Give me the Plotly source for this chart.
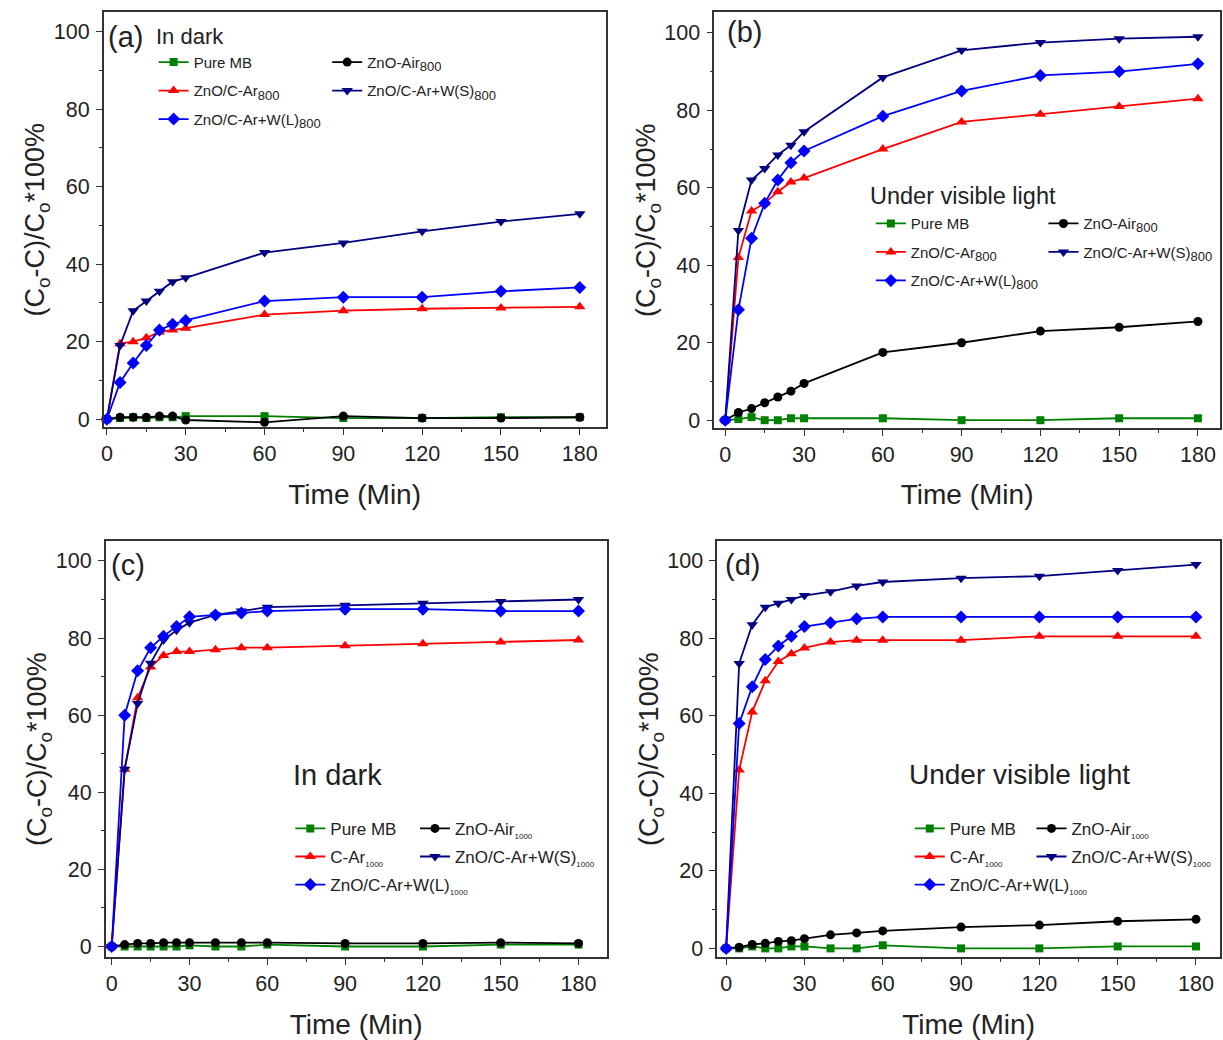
import plotly.graph_objects as go

# ---------------- data ----------------
time_800 = [0, 5, 10, 15, 20, 25, 30, 60, 90, 120, 150, 180]
time_1000 = [0, 5, 10, 15, 20, 25, 30, 40, 50, 60, 90, 120, 150, 180]

# (a) 800 in dark
a_pure_mb = [0, 0.3, 0.5, 0.3, 0.5, 0.5, 0.8, 0.8, 0.3, 0.3, 0.5, 0.5]
a_zno_air = [0, 0.5, 0.5, 0.5, 0.8, 0.8, -0.2, -0.8, 0.8, 0.3, 0.3, 0.5]
a_zno_c_ar = [0, 19.5, 20, 21, 22.5, 23, 23.5, 27, 28, 28.5, 28.7, 29]
a_zno_c_ws = [0, 19, 28, 30.5, 33, 35.5, 36.5, 43, 45.5, 48.5, 51, 53]
a_zno_c_wl = [0, 9.5, 14.5, 19, 23, 24.5, 25.5, 30.5, 31.5, 31.5, 33, 34]

# (b) 800 under visible light
b_pure_mb = [0, 0.3, 0.8, 0, 0, 0.5, 0.5, 0.5, 0, 0, 0.5, 0.5]
b_zno_air = [0, 2, 3, 4.5, 6, 7.5, 9.5, 17.5, 20, 23, 24, 25.5]
b_zno_c_ar = [0, 42, 54, 56, 59, 61.5, 62.5, 70, 77, 79, 81, 83]
b_zno_c_ws = [0, 49, 62, 65, 68.5, 71, 74.5, 88.5, 95.5, 97.5, 98.5, 99]
b_zno_c_wl = [0, 28.5, 47, 56, 62, 66.5, 69.5, 78.5, 85, 89, 90, 92]

# (c) 1000 in dark
c_pure_mb = [0, 0, 0, 0, 0, 0, 0.3, 0, 0, 0.5, 0, 0, 0.5, 0.5]
c_zno_air = [0, 0.5, 0.8, 0.8, 1, 1, 1, 1, 1, 1, 0.8, 0.8, 1, 0.8]
c_c_ar = [0, 46, 64.5, 72.5, 75.5, 76.5, 76.5, 77, 77.5, 77.5, 78, 78.5, 79, 79.5]
c_zno_c_ws = [0, 46, 63, 73.5, 79.5, 82, 84, 86, 87, 88, 88.5, 89, 89.5, 90]
c_zno_c_wl = [0, 60, 71.5, 77.5, 80.5, 83, 85.5, 86, 86.5, 87, 87.5, 87.5, 87, 87]

# (d) 1000 under visible light
d_pure_mb = [0, 0, 0.5, 0, 0, 0.5, 0.5, 0, 0, 0.8, 0, 0, 0.5, 0.5]
d_zno_air = [0, 0.3, 1, 1.3, 1.8, 2, 2.5, 3.5, 4, 4.5, 5.5, 6, 7, 7.5]
d_c_ar = [0, 46, 61, 69, 74, 76, 77.5, 79, 79.5, 79.5, 79.5, 80.5, 80.5, 80.5]
d_zno_c_ws = [0, 73.5, 83.5, 88, 89, 90, 91, 92, 93.5, 94.5, 95.5, 96, 97.5, 99]
d_zno_c_wl = [0, 58, 67.5, 74.5, 78, 80.5, 83, 84, 85, 85.5, 85.5, 85.5, 85.5, 85.5]

x_ticks = [0, 30, 60, 90, 120, 150, 180]
y_ticks = [0, 20, 40, 60, 80, 100]

SUB8 = '<sub><span style="font-size:13px">800</span></sub>'
names_800 = ["Pure MB", "ZnO-Air" + SUB8, "ZnO/C-Ar" + SUB8,
             "ZnO/C-Ar+W(S)" + SUB8, "ZnO/C-Ar+W(L)" + SUB8]
SUB10 = '<sub><span style="font-size:8px">1000</span></sub>'
names_1000 = ["Pure MB", "ZnO-Air" + SUB10, "C-Ar" + SUB10,
              "ZnO/C-Ar+W(S)" + SUB10, "ZnO/C-Ar+W(L)" + SUB10]

# ---------------- styles ----------------
W, H = 1223, 1040
FONT = "Liberation Sans, Arial, sans-serif"
colors = ["#008000", "#000000", "#ff0000", "#000080", "#0000ff"]
symbols = ["square", "circle", "triangle-up", "triangle-down", "diamond"]
msizes = [8, 9, 10, 10, 10]


def px(x):
    return x / W


def py(y):
    return 1 - y / H


# panel frames in pixels: (left, right, top, bottom), axis ranges
panels = [
    dict(frame=(101, 604, 12, 429), xr=[-1.2, 189.8], yr=[-2.1, 105.1], xstand=19),
    dict(frame=(713, 1220, 12, 430), xr=[-4.2, 188.4], yr=[-2.1, 105.4], xstand=19),
    dict(frame=(103, 605, 543, 961), xr=[-2.3, 190.8], yr=[-2.8, 105.2], xstand=21),
    dict(frame=(716, 1220, 543, 961), xr=[-3.4, 189.2], yr=[-2.3, 105.1], xstand=21),
]

series = [
    (time_800, [a_pure_mb, a_zno_air, a_zno_c_ar, a_zno_c_ws, a_zno_c_wl], names_800),
    (time_800, [b_pure_mb, b_zno_air, b_zno_c_ar, b_zno_c_ws, b_zno_c_wl], names_800),
    (time_1000, [c_pure_mb, c_zno_air, c_c_ar, c_zno_c_ws, c_zno_c_wl], names_1000),
    (time_1000, [d_pure_mb, d_zno_air, d_c_ar, d_zno_c_ws, d_zno_c_wl], names_1000),
]

# legend column positions (pixels): col1 x, col2 x, top y, font size, row gap
legend_pos = [
    dict(c1=151, c2=325, top=46, fs=15, gap=6),
    dict(c1=870, c2=1043, top=208, fs=15, gap=6),
    dict(c1=288, c2=413, top=814, fs=17, gap=3),
    dict(c1=909, c2=1031, top=814, fs=17, gap=3),
]

fig = go.Figure()
layout = dict(width=W, height=H, margin=dict(l=0, r=0, t=0, b=0),
              paper_bgcolor="white", plot_bgcolor="white",
              font=dict(family=FONT, color="#222"), showlegend=True)

for i, (p, (t, ys, names), lp) in enumerate(zip(panels, series, legend_pos)):
    n = i + 1
    xa = "x" if n == 1 else f"x{n}"
    ya = "y" if n == 1 else f"y{n}"
    lg1 = f"legend{2 * i + 1}" if i > 0 else "legend"
    lg2 = f"legend{2 * i + 2}"
    for k in range(5):
        leg = lg1 if k in (0, 2, 4) else lg2
        fig.add_trace(go.Scatter(
            x=t, y=ys[k], name=names[k], mode="lines+markers",
            line=dict(color=colors[k], width=1.8),
            marker=dict(symbol=symbols[k], size=msizes[k], color=colors[k]),
            xaxis=xa, yaxis=ya, legend=leg, legendgroup=f"g{i}_{k}",
            cliponaxis=False))
    l, r, tp, b = p["frame"]
    common = dict(showgrid=False, zeroline=False, showline=True, mirror=True,
                  linecolor="#333", linewidth=1.5, ticks="outside", ticklen=6,
                  tickwidth=1.3, tickcolor="#333",
                  tickfont=dict(size=21.5, family=FONT, color="#222"))
    layout["xaxis" if n == 1 else f"xaxis{n}"] = dict(
        domain=[px(l), px(r)], range=p["xr"], anchor=ya, tickvals=x_ticks,
        minor=dict(ticks="outside", ticklen=3, dtick=15, tick0=0, tickcolor="#333"),
        title=dict(text="Time (Min)", font=dict(size=28, family=FONT, color="#222"),
                   standoff=p["xstand"]),
        **common)
    layout["yaxis" if n == 1 else f"yaxis{n}"] = dict(
        domain=[py(b), py(tp)], range=p["yr"], anchor=xa, tickvals=y_ticks,
        ticklabelstandoff=2,
        minor=dict(ticks="outside", ticklen=3, dtick=10, tick0=0, tickcolor="#333"),
        title=dict(text="(C<sub>o</sub>-C)/C<sub>o</sub>*100%",
                   font=dict(size=27, family=FONT, color="#222"), standoff=1),
        **common)
    for lg, cx in ((lg1, lp["c1"]), (lg2, lp["c2"])):
        layout[lg] = dict(x=px(cx), y=py(lp["top"]), xanchor="left", yanchor="top",
                          bgcolor="rgba(0,0,0,0)", borderwidth=0,
                          tracegroupgap=lp["gap"], orientation="v",
                          font=dict(size=lp["fs"], family=FONT, color="#222"))

annots = [
    ("(a)", 103, 37, 29), ("In dark", 151, 37, 22),
    ("(b)", 724, 32, 29), ("Under visible light", 867, 197, 23.5),
    ("(c)", 106, 567, 29), ("In dark", 289, 778, 29),
    ("(d)", 722, 567, 29), ("Under visible light", 906, 777, 28),
]
layout["annotations"] = [
    dict(text=txt, x=px(x), y=py(y), xref="paper", yref="paper",
         xanchor="left", yanchor="middle", showarrow=False,
         font=dict(size=s, family=FONT, color="#222"))
    for txt, x, y, s in annots
]

fig.update_layout(**layout)
fig.write_html("out.html")
